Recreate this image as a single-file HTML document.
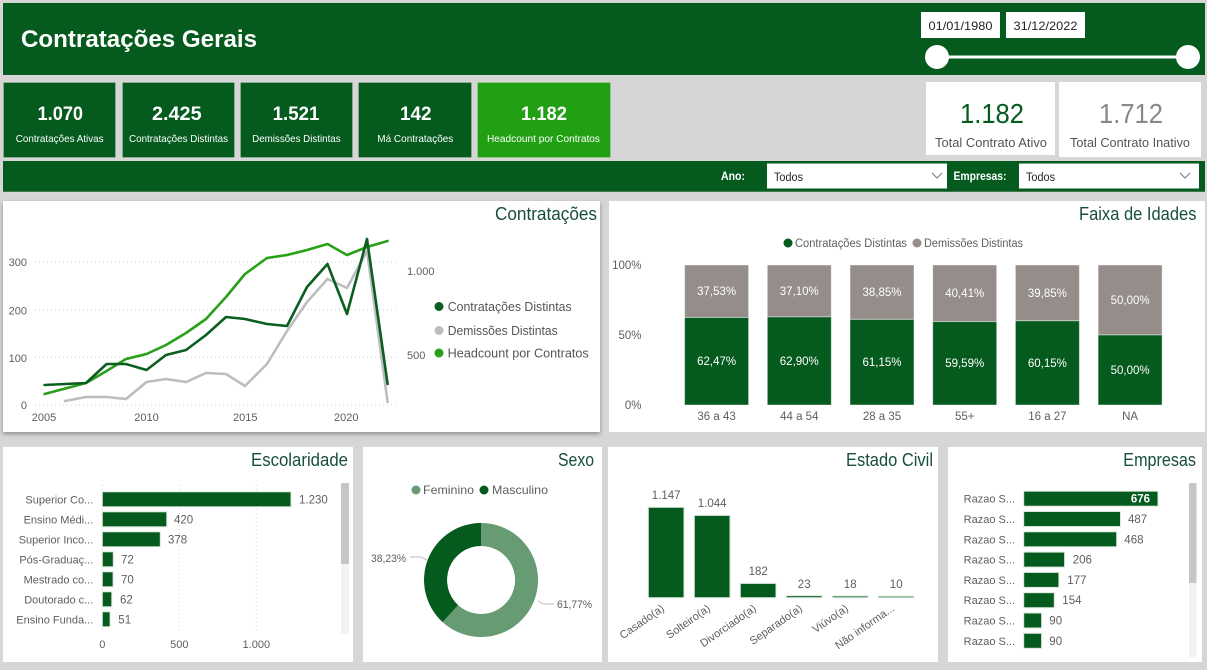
<!DOCTYPE html>
<html><head><meta charset="utf-8"><title>Contratações Gerais</title>
<style>
html,body{margin:0;padding:0;background:#d6d6d6;width:1207px;height:670px;overflow:hidden;}
svg{display:block;font-family:"Liberation Sans",sans-serif;}
</style></head><body>
<svg width="1207" height="670" viewBox="0 0 1207 670" xmlns="http://www.w3.org/2000/svg">
<defs>
<filter id="sh" x="-5%" y="-5%" width="110%" height="115%"><feDropShadow dx="0" dy="2" stdDeviation="2.5" flood-color="#000" flood-opacity="0.35"/></filter>
</defs>
<rect width="1207" height="670" fill="#d6d6d6"/>

<!-- Header -->
<rect x="3" y="3" width="1202" height="72" fill="#055a1e"/>
<text x="21" y="47" font-size="24" font-weight="bold" fill="#fff" textLength="236" lengthAdjust="spacingAndGlyphs">Contratações Gerais</text>
<rect x="921" y="12" width="79" height="26" fill="#fff"/>
<rect x="1006" y="12" width="79" height="26" fill="#fff"/>
<text x="960.5" y="30" font-size="12" fill="#252423" text-anchor="middle" textLength="64" lengthAdjust="spacingAndGlyphs">01/01/1980</text>
<text x="1045.5" y="30" font-size="12" fill="#252423" text-anchor="middle" textLength="64" lengthAdjust="spacingAndGlyphs">31/12/2022</text>
<line x1="937" y1="57" x2="1188" y2="57" stroke="#fff" stroke-width="3"/>
<circle cx="937" cy="57" r="12" fill="#fff"/>
<circle cx="1188" cy="57" r="12" fill="#fff"/>

<!-- KPI cards -->
<g stroke="#ffffff" stroke-opacity="0.18" stroke-width="1">
<rect x="3.5" y="82.5" width="112" height="75" fill="#055a1e"/>
<rect x="122.5" y="82.5" width="112" height="75" fill="#055a1e"/>
<rect x="240.5" y="82.5" width="112" height="75" fill="#055a1e"/>
<rect x="358.5" y="82.5" width="113" height="75" fill="#055a1e"/>
<rect x="477.5" y="82.5" width="133" height="75" fill="#22a013"/>
</g>
<g fill="#fff" text-anchor="middle" font-weight="bold" font-size="19.5">
<text x="60.3" y="120" textLength="45.5" lengthAdjust="spacingAndGlyphs">1.070</text>
<text x="176.8" y="120" textLength="49.6" lengthAdjust="spacingAndGlyphs">2.425</text>
<text x="296" y="120" textLength="46.7" lengthAdjust="spacingAndGlyphs">1.521</text>
<text x="415.8" y="120" textLength="31.6" lengthAdjust="spacingAndGlyphs">142</text>
<text x="544" y="120" textLength="46" lengthAdjust="spacingAndGlyphs">1.182</text>
</g>
<g fill="#fff" text-anchor="middle" font-size="10.5">
<text x="59.7" y="142" textLength="87.8" lengthAdjust="spacingAndGlyphs">Contratações Ativas</text>
<text x="178.5" y="142" textLength="99" lengthAdjust="spacingAndGlyphs">Contratações Distintas</text>
<text x="296.4" y="142" textLength="88.5" lengthAdjust="spacingAndGlyphs">Demissões Distintas</text>
<text x="415.3" y="142" textLength="76" lengthAdjust="spacingAndGlyphs">Má Contratações</text>
<text x="543.5" y="142" textLength="113" lengthAdjust="spacingAndGlyphs">Headcount por Contratos</text>
</g>

<!-- right KPIs -->
<rect x="926" y="82" width="129" height="73" fill="#fff"/>
<rect x="1059" y="82" width="142" height="75" fill="#fff"/>
<text x="992" y="123" font-size="28" fill="#055a1e" text-anchor="middle" textLength="64" lengthAdjust="spacingAndGlyphs">1.182</text>
<text x="1131" y="123" font-size="28" fill="#8c8685" text-anchor="middle" textLength="64" lengthAdjust="spacingAndGlyphs">1.712</text>
<text x="991" y="147" font-size="13" fill="#555" text-anchor="middle" textLength="112" lengthAdjust="spacingAndGlyphs">Total Contrato Ativo</text>
<text x="1130" y="147" font-size="13" fill="#555" text-anchor="middle" textLength="120" lengthAdjust="spacingAndGlyphs">Total Contrato Inativo</text>

<!-- Filter bar -->
<rect x="3" y="161" width="1202" height="31" fill="#055a1e"/>
<line x1="3" y1="191.5" x2="1205" y2="191.5" stroke="#3f7a50" stroke-width="1"/>
<text x="721" y="180" font-size="11.5" font-weight="bold" fill="#fff" textLength="24" lengthAdjust="spacingAndGlyphs">Ano:</text>
<rect x="767" y="163.5" width="180" height="25" fill="#fff"/>
<text x="774" y="181" font-size="11.5" fill="#252423" textLength="29" lengthAdjust="spacingAndGlyphs">Todos</text>
<polyline points="932,173 937,178 942,173" fill="none" stroke="#777" stroke-width="1"/>
<text x="953.5" y="180" font-size="11.5" font-weight="bold" fill="#fff" textLength="53" lengthAdjust="spacingAndGlyphs">Empresas:</text>
<rect x="1019" y="163.5" width="180" height="25" fill="#fff"/>
<text x="1026" y="181" font-size="11.5" fill="#252423" textLength="29" lengthAdjust="spacingAndGlyphs">Todos</text>
<polyline points="1180,173 1185,178 1190,173" fill="none" stroke="#777" stroke-width="1"/>

<!-- Panels -->
<rect x="3" y="201" width="597" height="231" fill="#fff" filter="url(#sh)"/>
<rect x="609" y="201" width="596" height="231" fill="#fff"/>
<rect x="3" y="447" width="350" height="215" fill="#fff"/>
<rect x="363" y="447" width="239" height="215" fill="#fff"/>
<rect x="608" y="447" width="330" height="215" fill="#fff"/>
<rect x="948" y="447" width="254" height="215" fill="#fff"/>

<!-- Titles -->
<g font-size="18" fill="#174e3d" text-anchor="end">
<text x="597" y="220" textLength="102" lengthAdjust="spacingAndGlyphs">Contratações</text>
<text x="1196.5" y="220" textLength="117.5" lengthAdjust="spacingAndGlyphs">Faixa de Idades</text>
<text x="348" y="466" textLength="97" lengthAdjust="spacingAndGlyphs">Escolaridade</text>
<text x="594" y="466" textLength="36" lengthAdjust="spacingAndGlyphs">Sexo</text>
<text x="933" y="466" textLength="87" lengthAdjust="spacingAndGlyphs">Estado Civil</text>
<text x="1196" y="466" textLength="72.7" lengthAdjust="spacingAndGlyphs">Empresas</text>
</g>

<!-- Line chart -->
<g stroke="#cfcfcf" stroke-width="1" stroke-dasharray="1,3">
<line x1="35" y1="262" x2="397" y2="262"/>
<line x1="35" y1="309.7" x2="397" y2="309.7"/>
<line x1="35" y1="357.3" x2="397" y2="357.3"/>
<line x1="35" y1="405" x2="397" y2="405"/>
</g>
<g font-size="11" fill="#605e5c">
<text x="27" y="266" text-anchor="end">300</text>
<text x="27" y="314.7" text-anchor="end">200</text>
<text x="27" y="362" text-anchor="end">100</text>
<text x="27" y="409" text-anchor="end">0</text>
<text x="407" y="275">1.000</text>
<text x="407" y="359">500</text>
<text x="44" y="421" text-anchor="middle">2005</text>
<text x="146.5" y="421" text-anchor="middle">2010</text>
<text x="245.3" y="421" text-anchor="middle">2015</text>
<text x="346.3" y="421" text-anchor="middle">2020</text>
</g>
<g fill="none" stroke-width="2.6" stroke-linejoin="round" stroke-linecap="round">
<polyline stroke="#bdbdbd" points="65,401 86,397 106.6,397 126,399 146.5,382 166,379 186,382 206,373 226,374 245,386 267,364 287,331 307,302 327.5,279 347,288 367,251 387.6,402"/>
<polyline stroke="#28a017" points="44.6,394 65.3,388.5 86,383 106.6,371 126,359 146.5,354 166,345 186,333 206,319 226,297 245,274 267,258 287,255 307,250 327.5,244 347,255 367,247 387.6,241"/>
<polyline stroke="#0b5e20" points="44.6,385 65.3,384 86,383 106.6,364 126,364 146.5,370 166,355 186,350 206,335 226,317 245,319 267,324 287,326 307,287 327.5,264 347,314 367,239 387.6,384"/>
</g>
<circle cx="439" cy="306.5" r="4.5" fill="#0b5e20"/>
<circle cx="439" cy="330.5" r="4.5" fill="#bdbdbd"/>
<circle cx="439" cy="353" r="4.5" fill="#28a017"/>
<g font-size="12.5" fill="#555">
<text x="447.7" y="311" textLength="124" lengthAdjust="spacingAndGlyphs">Contratações Distintas</text>
<text x="447.7" y="335" textLength="110" lengthAdjust="spacingAndGlyphs">Demissões Distintas</text>
<text x="447.7" y="357.5" textLength="141" lengthAdjust="spacingAndGlyphs">Headcount por Contratos</text>
</g>

<!-- Faixa de Idades -->
<circle cx="788" cy="243" r="4.5" fill="#055a1e"/>
<circle cx="917" cy="243" r="4.5" fill="#958d8a"/>
<g font-size="11.5" fill="#605e5c">
<text x="795" y="247" textLength="112" lengthAdjust="spacingAndGlyphs">Contratações Distintas</text>
<text x="924" y="247" textLength="99" lengthAdjust="spacingAndGlyphs">Demissões Distintas</text>
<text x="641.5" y="269" text-anchor="end">100%</text>
<text x="641.5" y="339" text-anchor="end">50%</text>
<text x="641.5" y="409" text-anchor="end">0%</text>
</g>
<g stroke="#ffffff" stroke-opacity="0.45" stroke-width="1">
<rect x="684.6" y="265" width="64" height="52.5" fill="#958d8a"/>
<rect x="684.6" y="317.5" width="64" height="87.5" fill="#055a1e"/>
<rect x="767.3" y="265" width="64" height="51.9" fill="#958d8a"/>
<rect x="767.3" y="316.9" width="64" height="88.1" fill="#055a1e"/>
<rect x="850" y="265" width="64" height="54.4" fill="#958d8a"/>
<rect x="850" y="319.4" width="64" height="85.6" fill="#055a1e"/>
<rect x="932.7" y="265" width="64" height="56.6" fill="#958d8a"/>
<rect x="932.7" y="321.6" width="64" height="83.4" fill="#055a1e"/>
<rect x="1015.4" y="265" width="64" height="55.8" fill="#958d8a"/>
<rect x="1015.4" y="320.8" width="64" height="84.2" fill="#055a1e"/>
<rect x="1098.1" y="265" width="64" height="70" fill="#958d8a"/>
<rect x="1098.1" y="335" width="64" height="70" fill="#055a1e"/>
</g>
<g font-size="11.5" fill="#fff" text-anchor="middle">
<text x="716.6" y="295">37,53%</text>
<text x="716.6" y="365">62,47%</text>
<text x="799.3" y="295">37,10%</text>
<text x="799.3" y="365">62,90%</text>
<text x="882" y="296">38,85%</text>
<text x="882" y="366">61,15%</text>
<text x="964.7" y="297">40,41%</text>
<text x="964.7" y="367">59,59%</text>
<text x="1047.4" y="297">39,85%</text>
<text x="1047.4" y="367">60,15%</text>
<text x="1130.1" y="304">50,00%</text>
<text x="1130.1" y="374">50,00%</text>
</g>
<g font-size="11.5" fill="#605e5c" text-anchor="middle">
<text x="716.6" y="420">36 a 43</text>
<text x="799.3" y="420">44 a 54</text>
<text x="882" y="420">28 a 35</text>
<text x="964.7" y="420">55+</text>
<text x="1047.4" y="420">16 a 27</text>
<text x="1130.1" y="420">NA</text>
</g>

<!-- Escolaridade -->
<g stroke="#cfcfcf" stroke-width="1" stroke-dasharray="1,3">
<line x1="102.3" y1="485" x2="102.3" y2="633"/>
<line x1="179.3" y1="485" x2="179.3" y2="633"/>
<line x1="256.3" y1="485" x2="256.3" y2="633"/>
</g>
<g fill="#055a1e" stroke="#dbe8dc" stroke-width="1">
<rect x="102.3" y="491.8" width="188.7" height="15"/>
<rect x="102.3" y="511.8" width="64.5" height="15"/>
<rect x="102.3" y="531.8" width="58" height="15"/>
<rect x="102.3" y="551.8" width="11" height="15"/>
<rect x="102.3" y="571.8" width="10.8" height="15"/>
<rect x="102.3" y="591.8" width="9.5" height="15"/>
<rect x="102.3" y="611.8" width="7.8" height="15"/>
</g>
<g font-size="11" fill="#605e5c" text-anchor="end">
<text x="93.3" y="503.3">Superior Co...</text>
<text x="93.3" y="523.3">Ensino Médi...</text>
<text x="93.3" y="543.3">Superior Inco...</text>
<text x="93.3" y="563.3">Pós-Graduaç...</text>
<text x="93.3" y="583.3">Mestrado co...</text>
<text x="93.3" y="603.3">Doutorado c...</text>
<text x="93.3" y="623.3">Ensino Funda...</text>
</g>
<g font-size="11.5" fill="#605e5c">
<text x="299" y="503.3">1.230</text>
<text x="174" y="523.3">420</text>
<text x="168" y="543.3">378</text>
<text x="121" y="563.3">72</text>
<text x="121" y="583.3">70</text>
<text x="120" y="603.3">62</text>
<text x="118.3" y="623.3">51</text>
</g>
<g font-size="11" fill="#605e5c" text-anchor="middle">
<text x="102.3" y="648">0</text>
<text x="179.3" y="648">500</text>
<text x="256.3" y="648">1.000</text>
</g>
<rect x="341" y="483" width="8" height="151" fill="#f3f3f3"/>
<rect x="341" y="483" width="8" height="81" fill="#c6c6c6"/>

<!-- Sexo -->
<circle cx="416" cy="490" r="4.5" fill="#679b74"/>
<circle cx="484" cy="490" r="4.5" fill="#055a1e"/>
<text x="423" y="494" font-size="12" fill="#605e5c" textLength="51" lengthAdjust="spacingAndGlyphs">Feminino</text>
<text x="492" y="494" font-size="12" fill="#605e5c" textLength="56" lengthAdjust="spacingAndGlyphs">Masculino</text>
<path d="M481,523 A57,57 0 1,1 442.6,622.1 L458.1,605.1 A34,34 0 1,0 481,546 Z" fill="#679b74"/>
<path d="M442.6,622.1 A57,57 0 0,1 481,523 L481,546 A34,34 0 0,0 458.1,605.1 Z" fill="#055a1e"/>
<polyline points="410,557 421,557 427,560" fill="none" stroke="#bbb" stroke-width="1"/>
<polyline points="538,601 543,604 554,604" fill="none" stroke="#bbb" stroke-width="1"/>
<text x="371" y="562" font-size="11" fill="#605e5c" textLength="35" lengthAdjust="spacingAndGlyphs">38,23%</text>
<text x="557" y="608" font-size="11" fill="#605e5c" textLength="35" lengthAdjust="spacingAndGlyphs">61,77%</text>

<!-- Estado Civil -->
<g fill="#055a1e" stroke="#dbe8dc" stroke-width="1">
<rect x="648.3" y="507.3" width="35.7" height="90.4"/>
<rect x="694.3" y="515.4" width="35.7" height="82.3"/>
<rect x="740.3" y="583.4" width="35.7" height="14.3"/>
<rect x="786.3" y="595.7" width="35.7" height="2"/>
<rect x="832.3" y="596" width="35.7" height="1.7"/>
<rect x="878.3" y="596.2" width="35.7" height="1.5"/>
</g>
<g font-size="11.5" fill="#605e5c" text-anchor="middle">
<text x="666.2" y="499">1.147</text>
<text x="712.2" y="507">1.044</text>
<text x="758.2" y="575">182</text>
<text x="804.2" y="588">23</text>
<text x="850.2" y="588">18</text>
<text x="896.2" y="588">10</text>
</g>
<g font-size="11" fill="#605e5c" text-anchor="end">
<text transform="translate(665,610) rotate(-35)">Casado(a)</text>
<text transform="translate(711,610) rotate(-35)">Solteiro(a)</text>
<text transform="translate(757,610) rotate(-35)">Divorciado(a)</text>
<text transform="translate(803,610) rotate(-35)">Separado(a)</text>
<text transform="translate(849,610) rotate(-35)">Viúvo(a)</text>
<text transform="translate(895,610) rotate(-35)">Não informa...</text>
</g>

<!-- Empresas -->
<g fill="#055a1e" stroke="#dbe8dc" stroke-width="1">
<rect x="1023.7" y="491.2" width="134.3" height="15"/>
<rect x="1023.7" y="511.5" width="96.8" height="15"/>
<rect x="1023.7" y="531.8" width="93" height="15"/>
<rect x="1023.7" y="552.1" width="40.9" height="15"/>
<rect x="1023.7" y="572.4" width="35.2" height="15"/>
<rect x="1023.7" y="592.7" width="30.6" height="15"/>
<rect x="1023.7" y="613" width="17.9" height="15"/>
<rect x="1023.7" y="633.3" width="17.9" height="15"/>
</g>
<g font-size="11" fill="#605e5c" text-anchor="end">
<text x="1015" y="502.7">Razao S...</text>
<text x="1015" y="523">Razao S...</text>
<text x="1015" y="543.3">Razao S...</text>
<text x="1015" y="563.6">Razao S...</text>
<text x="1015" y="583.9">Razao S...</text>
<text x="1015" y="604.2">Razao S...</text>
<text x="1015" y="624.5">Razao S...</text>
<text x="1015" y="644.8">Razao S...</text>
</g>
<text x="1150" y="502.7" font-size="11.5" fill="#fff" text-anchor="end" font-weight="bold">676</text>
<g font-size="11.5" fill="#605e5c">
<text x="1128" y="523">487</text>
<text x="1124.3" y="543.3">468</text>
<text x="1072.7" y="563.6">206</text>
<text x="1067.3" y="583.9">177</text>
<text x="1062.3" y="604.2">154</text>
<text x="1049.3" y="624.5">90</text>
<text x="1049.3" y="644.8">90</text>
</g>
<rect x="1189" y="483" width="7.5" height="174" fill="#f3f3f3"/>
<rect x="1189" y="483" width="7.5" height="100" fill="#c6c6c6"/>
</svg>
</body></html>
